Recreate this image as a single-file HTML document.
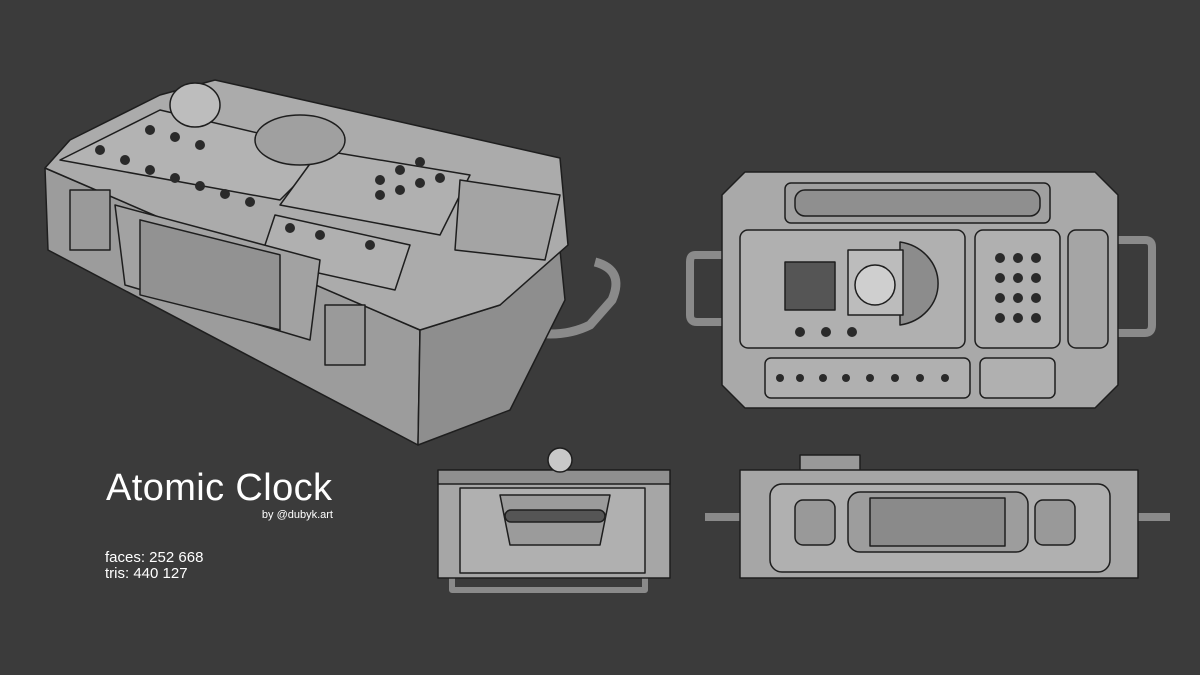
<!DOCTYPE html>
<html><head><meta charset="utf-8"><style>
html,body{margin:0;padding:0;background:#3b3b3b;}
svg{display:block}
text{font-family:"Liberation Sans",sans-serif;fill:#fff}
</style></head><body>
<svg width="1200" height="675" viewBox="0 0 1200 675" xmlns="http://www.w3.org/2000/svg">
<rect width="1200" height="675" fill="#3b3b3b"/>
<g stroke="#1e1e1e" stroke-width="1.5" stroke-linejoin="round">
<path d="M595,262 Q625,270 612,300 L590,325 Q560,340 520,330" fill="none" stroke="#8a8a8a" stroke-width="9"/>
<polygon points="45,168 420,330 418,445 48,250" fill="#9c9c9c"/>
<polygon points="420,330 500,305 560,250 565,300 510,410 418,445" fill="#8e8e8e"/>
<polygon points="45,168 70,140 160,95 215,80 560,158 568,245 500,305 420,330" fill="#ababab"/>
<polygon points="60,160 160,110 330,150 280,200" fill="#b3b3b3"/>
<polygon points="320,150 470,175 440,235 280,205" fill="#b0b0b0"/>
<polygon points="275,215 410,245 395,290 260,260" fill="#b0b0b0"/>
<polygon points="460,180 560,195 545,260 455,250" fill="#a4a4a4"/>
<polygon points="115,205 320,260 310,340 125,285" fill="#a2a2a2"/>
<rect x="140" y="225" width="140" height="75" fill="#929292" transform="skewY(14) translate(0,-40)"/>
<ellipse cx="195" cy="105" rx="25" ry="22" fill="#bdbdbd"/>
<ellipse cx="300" cy="140" rx="45" ry="25" fill="#a0a0a0"/>
<rect x="70" y="190" width="40" height="60" fill="#9a9a9a"/>
<rect x="325" y="305" width="40" height="60" fill="#9a9a9a"/>
<path d="M722,255 L695,255 Q690,255 690,262 L690,315 Q690,322 697,322 L722,322 M1118,240 L1145,240 Q1152,240 1152,247 L1152,325 Q1152,333 1145,333 L1118,333" fill="none" stroke="#8a8a8a" stroke-width="8"/>
<polygon points="745,172 1095,172 1118,195 1118,385 1095,408 745,408 722,385 722,195" fill="#a9a9a9"/>
<rect x="785" y="183" width="265" height="40" rx="6" fill="#a0a0a0"/>
<rect x="795" y="190" width="245" height="26" rx="10" fill="#8f8f8f"/>
<rect x="740" y="230" width="225" height="118" rx="8" fill="#b0b0b0"/>
<rect x="975" y="230" width="85" height="118" rx="8" fill="#b0b0b0"/>
<rect x="1068" y="230" width="40" height="118" rx="8" fill="#a5a5a5"/>
<rect x="765" y="358" width="205" height="40" rx="6" fill="#b0b0b0"/>
<rect x="980" y="358" width="75" height="40" rx="6" fill="#b0b0b0"/>
<rect x="785" y="262" width="50" height="48" fill="#555"/>
<path d="M900,325 L900,242 A45,42 0 0 1 900,325 Z" fill="#8c8c8c"/>
<rect x="848" y="250" width="55" height="65" fill="#bcbcbc"/>
<circle cx="875" cy="285" r="20" fill="#cfcfcf"/>
<path d="M452,575 L452,590 L645,590 L645,575" fill="none" stroke="#8a8a8a" stroke-width="6"/>
<rect x="438" y="470" width="232" height="108" fill="#a6a6a6"/>
<rect x="438" y="470" width="232" height="14" fill="#8f8f8f"/>
<rect x="460" y="488" width="185" height="85" fill="#b0b0b0"/>
<polygon points="500,495 610,495 600,545 510,545" fill="#9b9b9b"/>
<rect x="505" y="510" width="100" height="12" rx="6" fill="#555"/>
<circle cx="560" cy="460" r="12" fill="#c8c8c8"/>
<path d="M705,517 L740,517 M1138,517 L1170,517" stroke="#8a8a8a" stroke-width="8"/>
<rect x="800" y="455" width="60" height="18" fill="#999"/>
<rect x="740" y="470" width="398" height="108" fill="#a6a6a6"/>
<rect x="770" y="484" width="340" height="88" rx="12" fill="#b0b0b0"/>
<rect x="848" y="492" width="180" height="60" rx="12" fill="#9d9d9d"/>
<rect x="870" y="498" width="135" height="48" fill="#8a8a8a"/>
<rect x="795" y="500" width="40" height="45" rx="8" fill="#999"/>
<rect x="1035" y="500" width="40" height="45" rx="8" fill="#999"/>
</g>
<g fill="#2a2a2a">
<circle cx="1000" cy="258" r="5"/><circle cx="1018" cy="258" r="5"/><circle cx="1036" cy="258" r="5"/>
<circle cx="1000" cy="278" r="5"/><circle cx="1018" cy="278" r="5"/><circle cx="1036" cy="278" r="5"/>
<circle cx="1000" cy="298" r="5"/><circle cx="1018" cy="298" r="5"/><circle cx="1036" cy="298" r="5"/>
<circle cx="1000" cy="318" r="5"/><circle cx="1018" cy="318" r="5"/><circle cx="1036" cy="318" r="5"/>
<circle cx="780" cy="378" r="4"/><circle cx="800" cy="378" r="4"/><circle cx="823" cy="378" r="4"/><circle cx="846" cy="378" r="4"/><circle cx="870" cy="378" r="4"/><circle cx="895" cy="378" r="4"/><circle cx="920" cy="378" r="4"/><circle cx="945" cy="378" r="4"/>
<circle cx="800" cy="332" r="5"/><circle cx="826" cy="332" r="5"/><circle cx="852" cy="332" r="5"/>
<circle cx="100" cy="150" r="5"/><circle cx="125" cy="160" r="5"/><circle cx="150" cy="170" r="5"/><circle cx="175" cy="178" r="5"/><circle cx="200" cy="186" r="5"/><circle cx="225" cy="194" r="5"/><circle cx="250" cy="202" r="5"/>
<circle cx="150" cy="130" r="5"/><circle cx="175" cy="137" r="5"/><circle cx="200" cy="145" r="5"/>
<circle cx="380" cy="180" r="5"/><circle cx="400" cy="170" r="5"/><circle cx="420" cy="162" r="5"/><circle cx="380" cy="195" r="5"/><circle cx="400" cy="190" r="5"/><circle cx="420" cy="183" r="5"/><circle cx="440" cy="178" r="5"/>
<circle cx="320" cy="235" r="5"/><circle cx="370" cy="245" r="5"/><circle cx="290" cy="228" r="5"/>
</g>
<text x="106" y="500" font-size="38" textLength="226">Atomic Clock</text>
<text x="333" y="518" font-size="11" text-anchor="end">by @dubyk.art</text>
<text x="105" y="562" font-size="15">faces: 252 668</text>
<text x="105" y="578" font-size="15">tris: 440 127</text>
</svg>
</body></html>
